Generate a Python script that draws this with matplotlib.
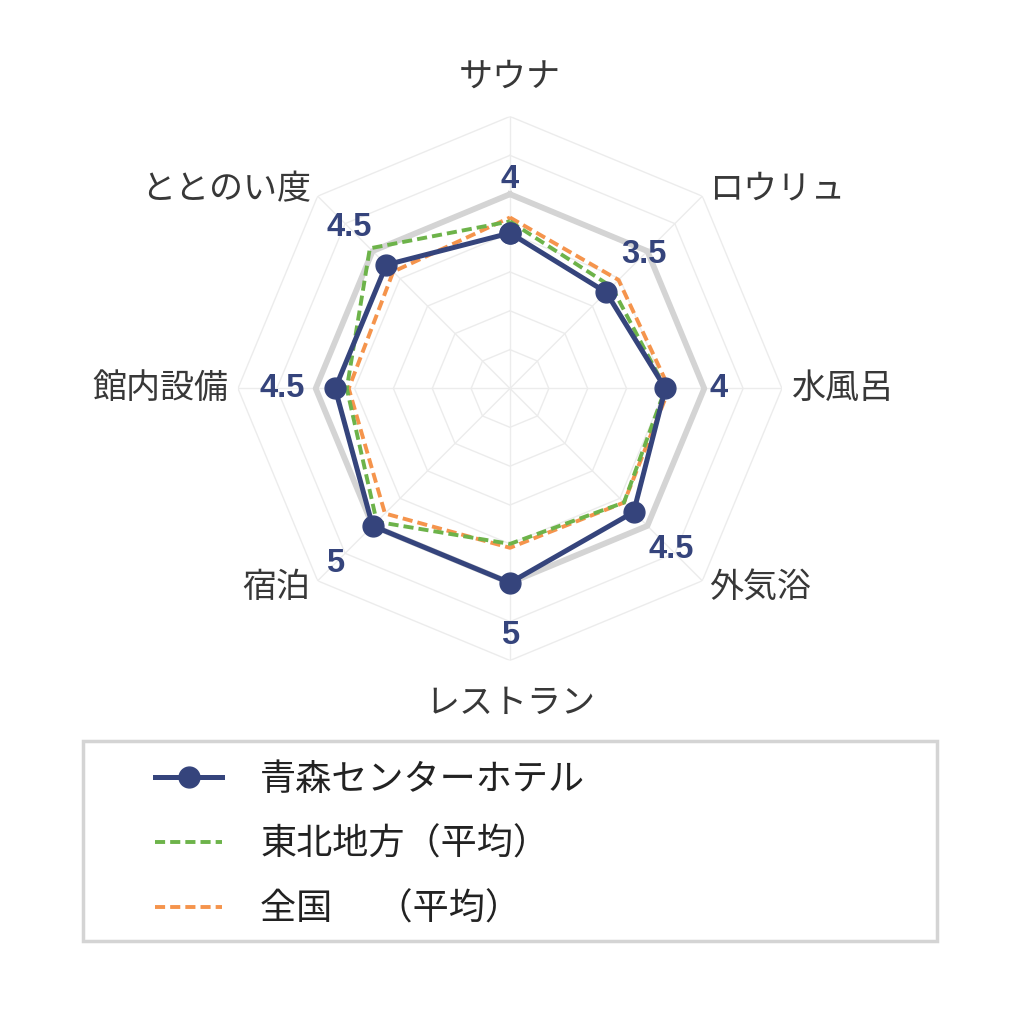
import numpy as np
import matplotlib
matplotlib.use("Agg")
import matplotlib.pyplot as plt
from matplotlib.lines import Line2D
from matplotlib.patches import Rectangle

plt.rcParams['font.family'] = ['Noto Sans CJK JP', 'DejaVu Sans']

# データ
categories = ['サウナ', 'ロウリュ', '水風呂', '外気浴', 'レストラン', '宿泊', '館内設備', 'ととのい度']
hotel = [4, 3.5, 4, 4.5, 5, 5, 4.5, 4.5]
tohoku = [4.3, 3.7, 4.0, 4.15, 4.0, 4.85, 4.2, 5.1]
zenkoku = [4.4, 3.95, 4.1, 4.15, 4.1, 4.55, 4.15, 4.25]
value_labels = ['4', '3.5', '4', '4.5', '5', '5', '4.5', '4.5']
legend_names = ['青森センターホテル', '東北地方（平均）', '全国　 （平均）']

navy = '#35447c'
green = '#6db34a'
orange = '#f5944c'

n = len(categories)
ang = np.linspace(0, 2 * np.pi, n, endpoint=False)
ang_c = np.append(ang, ang[0])

def close(v):
    return np.append(v, v[0])

fig = plt.figure(figsize=(10.24, 10.24), dpi=100)
ax = fig.add_axes([0.2324, 0.3550, 0.53125, 0.53125], projection='polar')
ax.set_theta_offset(np.pi / 2)
ax.set_theta_direction(-1)
ax.set_ylim(0, 7)
ax.grid(False)
ax.spines['polar'].set_visible(False)
ax.set_xticks([])
ax.set_yticks([])
ax.patch.set_alpha(0)

# 八角形のグリッド
for k in range(1, 8):
    ax.plot(ang_c, [k] * (n + 1), color='#ececec', lw=1.0, zorder=1)
for a in ang:
    ax.plot([a, a], [0, 7], color='#ececec', lw=1.0, zorder=1)

# 5の枠
ax.plot(ang_c, [5] * (n + 1), color='#d4d4d4', lw=4.2, zorder=2)

dash = (0, (2.6, 1.3))
ax.plot(ang_c, close(zenkoku), color=orange, lw=2.8, linestyle=dash, zorder=3)
ax.plot(ang_c, close(tohoku), color=green, lw=2.8, linestyle=dash, zorder=4)
ax.plot(ang_c, close(hotel), color=navy, lw=3.6, marker='o', markersize=15, zorder=5)

# 値ラベル
for a, v, s in zip(ang, hotel, value_labels):
    ax.text(a, v + 1.37, s, ha='center', va='center', fontsize=23.5,
            color=navy, family=['Liberation Sans', 'DejaVu Sans'], weight='bold')

# カテゴリラベル
for a, c in zip(ang, categories):
    sx = np.sin(a)
    if abs(sx) < 1e-6:
        r = 8.02 if np.cos(a) > 0 else 8.1
        ax.text(a, r, c, ha='center', va='center', fontsize=24.5, color='#383838')
    else:
        ax.text(a, 7.25, c, ha='left' if sx > 0 else 'right', va='center',
                fontsize=24.5, color='#383838')

# 凡例の枠
fig.patches.append(Rectangle((83 / 1024, (1024 - 941) / 1024), 854 / 1024, 200 / 1024,
                             transform=fig.transFigure, facecolor='white',
                             edgecolor='#d4d4d4', lw=2.5, zorder=0))

handles = [
    Line2D([], [], color=navy, lw=3.6, marker='o', markersize=15),
    Line2D([], [], color=green, lw=2.8, linestyle=dash),
    Line2D([], [], color=orange, lw=2.8, linestyle=dash),
]
leg = fig.legend(handles, legend_names, loc='upper left',
                 bbox_to_anchor=(155 / 1024, (1024 - 762) / 1024),
                 fontsize=26, frameon=False,
                 handlelength=1.86, handletextpad=1.05, borderpad=0, labelspacing=0.8,
                 borderaxespad=0)
for t in leg.get_texts():
    t.set_color('#222222')

fig.savefig('out.png', dpi=100, facecolor='white')
